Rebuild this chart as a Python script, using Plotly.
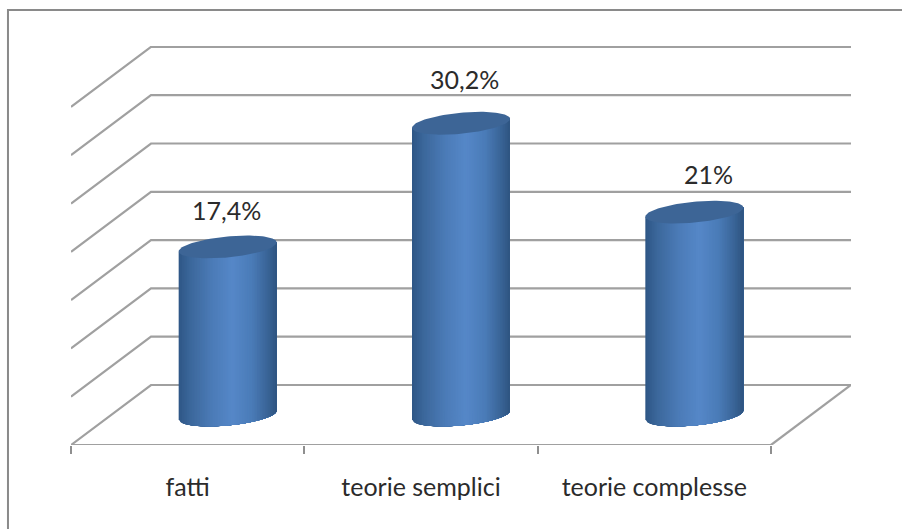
import numpy as np
import plotly.graph_objects as go

# Chart content
categories = ["fatti", "teorie semplici", "teorie complesse"]
values = [17.4, 30.2, 21.0]
value_labels = ["17,4%", "30,2%", "21%"]
grid_levels = [0, 5, 10, 15, 20, 25, 30, 35]
category_edges = [0, 1, 2, 3]

# Oblique projection: how far the back wall is shifted from the front edge
DEPTH_X = 80 / 233.33
DEPTH_Y = 60 / 9.66

# Cylinder shape, in axis units
RADIUS = 49 / 233.33
ELLIPSE_B = 10.5 / 9.66
ELLIPSE_TILT = 4.5 / 9.66
STRIPS = 60

# Horizontal shading of the cylinder wall
SHADE_POS = [-1.0, -0.75, -0.3, 0.1, 0.5, 0.8, 1.0]
SHADE_RGB = np.array([
    [46, 86, 134], [60, 104, 156], [76, 124, 184], [85, 135, 200],
    [74, 123, 183], [58, 101, 152], [46, 84, 128],
])
TOP_COLOUR = "#3d6596"
LINE_COLOUR = "#a0a0a0"
TEXT_COLOUR = "#2b2b2b"
FONT = "Lato"
FONT_SIZE = 25


def shade(u):
    rgb = [np.interp(u, SHADE_POS, SHADE_RGB[:, c]) for c in range(3)]
    return "rgb({:.0f},{:.0f},{:.0f})".format(*rgb)


def lower_arc(cy, u):
    return cy + ELLIPSE_TILT * u - ELLIPSE_B * np.sqrt(np.clip(1 - u * u, 0, 1))


def guide_line(xs, ys):
    return go.Scatter(
        x=xs, y=ys, mode="lines", line=dict(color=LINE_COLOUR, width=2.2),
        hoverinfo="skip", showlegend=False,
    )


fig = go.Figure()

# Wall and side gridlines, each bent at the back corner
for level in grid_levels:
    fig.add_trace(guide_line(
        [0, DEPTH_X, 3 + DEPTH_X],
        [level, level + DEPTH_Y, level + DEPTH_Y],
    ))
# Front and right edges of the floor
fig.add_trace(guide_line([0, 3], [0, 0]))
fig.add_trace(guide_line([3, 3 + DEPTH_X], [0, DEPTH_Y]))

# Cylinders: overpainted strips for the wall, an ellipse for the lid.
# Each strip runs through to the right edge so no seams show between them.
edges = np.linspace(-1, 1, STRIPS + 1)
for i, (name, val) in enumerate(zip(categories, values)):
    cx = i + 0.5 + DEPTH_X / 2
    base = DEPTH_Y / 2
    top = base + val
    for u0, u1 in zip(edges[:-1], edges[1:]):
        us = np.linspace(u0, 1, 40)
        xs = cx + RADIUS * us
        ys = lower_arc(base, us)
        fig.add_trace(go.Scatter(
            x=np.r_[xs, xs[::-1]],
            y=np.r_[ys, top + ELLIPSE_TILT * us[::-1]],
            mode="lines", fill="toself", line=dict(width=0),
            fillcolor=shade((u0 + u1) / 2),
            hoverinfo="skip", showlegend=False,
        ))
    t = np.linspace(0, 2 * np.pi, 121)
    fig.add_trace(go.Scatter(
        x=cx + RADIUS * np.cos(t),
        y=top + ELLIPSE_TILT * np.cos(t) + ELLIPSE_B * np.sin(t),
        mode="lines", fill="toself", line=dict(width=0),
        fillcolor=TOP_COLOUR, name=name, showlegend=False,
    ))

# Value labels above the cylinders
label_shift = [(-1, 37), (3, 44), (14, 38)]
for i, (val, text) in enumerate(zip(values, value_labels)):
    fig.add_annotation(
        x=i + 0.5 + DEPTH_X / 2, y=DEPTH_Y / 2 + val,
        text=text, showarrow=False, yanchor="middle",
        xshift=label_shift[i][0], yshift=label_shift[i][1],
        font=dict(family=FONT, size=FONT_SIZE, color=TEXT_COLOUR),
    )

fig.update_layout(
    width=902, height=529,
    margin=dict(l=71, r=51, t=46, b=84, autoexpand=False),
    paper_bgcolor="white", plot_bgcolor="white",
    showlegend=False,
    xaxis=dict(
        range=[0, 3 + DEPTH_X], tickvals=[0.5, 1.5, 2.5], ticktext=categories,
        showgrid=False, zeroline=False, showline=False,
        ticks="outside", ticklen=20, tickcolor="rgba(0,0,0,0)",
        tickfont=dict(family=FONT, size=FONT_SIZE, color=TEXT_COLOUR),
        minor=dict(tickvals=category_edges, ticks="outside", ticklen=8,
                   tickcolor="#8f8f8f", tickwidth=2),
    ),
    yaxis=dict(range=[0, 399 / 9.66], visible=False),
    shapes=[dict(
        type="path", xref="paper", yref="paper",
        path="M {:.4f} {:.4f} L {:.4f} {:.4f} L {:.4f} {:.4f}".format(
            -63 / 780, -84 / 399, -63 / 780, 36 / 399 + 1, 831 / 780, 36 / 399 + 1),
        line=dict(color="#8a8a8a", width=2),
    )],
)

fig.write_html("out.html", config={"displayModeBar": False})
